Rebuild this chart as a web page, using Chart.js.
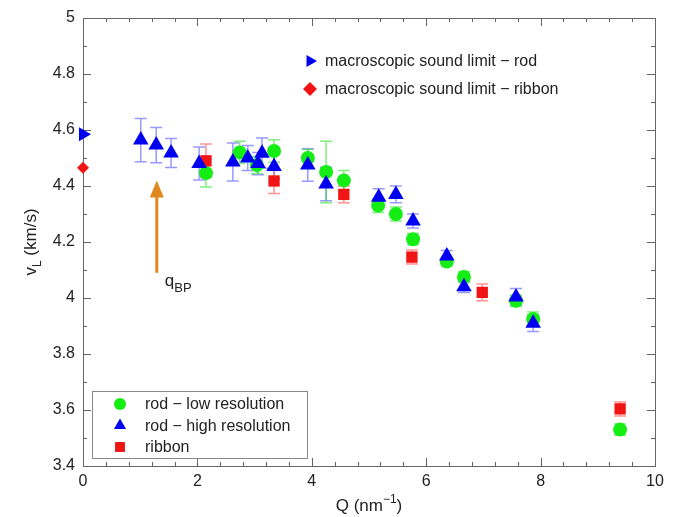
<!DOCTYPE html>
<html>
<head>
<meta charset="utf-8">
<script src="https://cdn.jsdelivr.net/npm/chart.js@4.4.1/dist/chart.umd.min.js"></script>
<style>
  html, body { margin: 0; padding: 0; background: #fff; }
  #wrap { width: 681px; height: 517px; }
</style>
</head>
<body>
<div id="wrap"><canvas id="vl_chart"></canvas></div>
<script>
// rod - low resolution
const lowQ   = [2.15, 2.74, 3.04, 3.34, 3.93, 4.25, 4.56, 5.16, 5.47, 5.77, 6.36, 6.66, 7.57, 7.87, 9.39]
const lowV   = [4.446, 4.52, 4.475, 4.525, 4.50, 4.45, 4.42, 4.33, 4.30, 4.21, 4.13, 4.075, 3.99, 3.925, 3.53]
const lowErr = [0.05, 0.04, 0.03, 0.04, 0.03, 0.11, 0.035, 0.025, 0.025, 0.02, 0.015, 0.02, 0.02, 0.025, 0.02]

// rod - high resolution
const hiQ   = [1.01, 1.28, 1.54, 2.03, 2.62, 2.88, 3.06, 3.13, 3.34, 3.93, 4.25, 5.17, 5.47, 5.77, 6.36, 6.66, 7.57, 7.87]
const hiV   = [4.564, 4.546, 4.518, 4.48, 4.486, 4.50, 4.48, 4.517, 4.47, 4.475, 4.407, 4.36, 4.37, 4.275, 4.15, 4.04, 4.004, 3.91]
const hiErr = [0.077, 0.063, 0.052, 0.059, 0.068, 0.045, 0.04, 0.054, 0.045, 0.058, 0.06, 0.03, 0.03, 0.025, 0.02, 0.02, 0.03, 0.03]

// ribbon
const ribQ   = [2.15, 3.34, 4.56, 5.75, 6.98, 9.39]
const ribV   = [4.49, 4.418, 4.37, 4.146, 4.02, 3.604]
const ribErr = [0.06, 0.045, 0.03, 0.025, 0.03, 0.025]

// macroscopic sound limits (at Q = 0)
const macroRod = 4.585
const macroRibbon = 4.465

const xTicks = [0, 2, 4, 6, 8, 10]
const yTicks = [3.4, 3.6, 3.8, 4, 4.2, 4.4, 4.6, 4.8, 5]

const FONT = '"Liberation Sans", Arial, sans-serif'

function pts(xs, ys) {
  return xs.map((x, i) => ({ x: x, y: ys[i] }))
}

// error bars, drawn under the markers
const errorBars = {
  id: 'errorBars',
  beforeDatasetsDraw(chart) {
    const ctx = chart.ctx
    const xs = chart.scales.x, ys = chart.scales.y
    chart.data.datasets.forEach(ds => {
      if (!ds.errors) return
      ctx.save()
      ctx.strokeStyle = ds.errColor
      ctx.lineWidth = 1.5
      ds.data.forEach((p, i) => {
        const px = xs.getPixelForValue(p.x)
        const top = ys.getPixelForValue(p.y + ds.errors[i])
        const bot = ys.getPixelForValue(p.y - ds.errors[i])
        ctx.beginPath()
        ctx.moveTo(px, top); ctx.lineTo(px, bot)
        ctx.moveTo(px - 6, top); ctx.lineTo(px + 6, top)
        ctx.moveTo(px - 6, bot); ctx.lineTo(px + 6, bot)
        ctx.stroke()
      })
      ctx.restore()
    })
  }
}

// box with inward ticks on all four sides
const frame = {
  id: 'frame',
  beforeDatasetsDraw(chart) {
    const ctx = chart.ctx, a = chart.chartArea
    const xs = chart.scales.x, ys = chart.scales.y
    ctx.save()
    ctx.strokeStyle = '#666'
    ctx.lineWidth = 1
    ctx.strokeRect(a.left + 0.5, a.top + 0.5, a.right - a.left, a.bottom - a.top)
    ctx.beginPath()
    for (let i = 0; i <= 25; i++) {
      const px = Math.round(xs.getPixelForValue(i * 0.4)) + 0.5
      const len = i % 5 == 0 ? 8 : 4
      ctx.moveTo(px, a.bottom); ctx.lineTo(px, a.bottom - len)
      ctx.moveTo(px, a.top); ctx.lineTo(px, a.top + len)
    }
    for (let i = 0; i <= 16; i++) {
      const py = Math.round(ys.getPixelForValue(3.4 + i * 0.1)) + 0.5
      const len = i % 2 == 0 ? 8 : 4
      ctx.moveTo(a.left, py); ctx.lineTo(a.left + len, py)
      ctx.moveTo(a.right, py); ctx.lineTo(a.right - len, py)
    }
    ctx.stroke()
    ctx.restore()
  }
}

function marker(ctx, ds, x, y, r) {
  ctx.save()
  ctx.fillStyle = ds.backgroundColor
  ctx.strokeStyle = ds.backgroundColor
  Chart.helpers.drawPoint(ctx, { pointStyle: ds.pointStyle, radius: r, rotation: ds.rotation || 0, borderWidth: 0 }, x, y)
  ctx.restore()
}

// titles, arrow, and the two legends
const extras = {
  id: 'extras',
  afterDraw(chart) {
    const ctx = chart.ctx, a = chart.chartArea
    const xs = chart.scales.x, ys = chart.scales.y
    const ds = chart.data.datasets
    ctx.save()
    ctx.fillStyle = '#222'
    ctx.textBaseline = 'alphabetic'

    // x title: Q (nm^-1)
    ctx.font = '17px ' + FONT
    const t1 = 'Q (nm', sup = '\u22121', t2 = ')'
    ctx.font = '17px ' + FONT
    const w1 = ctx.measureText(t1).width, w3 = ctx.measureText(t2).width
    ctx.font = '12px ' + FONT
    const w2 = ctx.measureText(sup).width
    let x0 = (a.left + a.right) / 2 - (w1 + w2 + w3) / 2
    const yb = a.bottom + 45
    ctx.font = '17px ' + FONT
    ctx.textAlign = 'left'
    ctx.fillText(t1, x0, yb)
    ctx.font = '12px ' + FONT
    ctx.fillText(sup, x0 + w1, yb - 8)
    ctx.font = '17px ' + FONT
    ctx.fillText(t2, x0 + w1 + w2, yb)

    // y title: v_L (km/s)
    ctx.save()
    ctx.translate(36, (a.top + a.bottom) / 2)
    ctx.rotate(-Math.PI / 2)
    ctx.font = '17px ' + FONT
    const v = 'v', rest = ' (km/s)'
    const wv = ctx.measureText(v).width, wr = ctx.measureText(rest).width
    ctx.font = '12px ' + FONT
    const wl = ctx.measureText('L').width
    let s = -(wv + wl + wr) / 2
    ctx.font = '17px ' + FONT
    ctx.fillText(v, s, 0)
    ctx.font = '12px ' + FONT
    ctx.fillText('L', s + wv, 5)
    ctx.font = '17px ' + FONT
    ctx.fillText(rest, s + wv + wl, 0)
    ctx.restore()

    // arrow marking q_BP
    const ax = xs.getPixelForValue(1.29)
    const aTop = ys.getPixelForValue(4.42)
    const aBot = ys.getPixelForValue(4.09)
    ctx.strokeStyle = '#e0871e'
    ctx.fillStyle = '#e0871e'
    ctx.lineWidth = 3
    ctx.beginPath()
    ctx.moveTo(ax, aBot); ctx.lineTo(ax, aTop + 14)
    ctx.stroke()
    ctx.beginPath()
    ctx.moveTo(ax, aTop); ctx.lineTo(ax - 7, aTop + 17); ctx.lineTo(ax + 7, aTop + 17)
    ctx.closePath(); ctx.fill()

    ctx.fillStyle = '#222'
    ctx.font = '17px ' + FONT
    const qx = ax + 8, qy = aBot + 13
    ctx.fillText('q', qx, qy)
    const wq = ctx.measureText('q').width
    ctx.font = '13px ' + FONT
    ctx.fillText('BP', qx + wq, qy + 6)

    // legend for the macroscopic limits (no box)
    ctx.font = '16px ' + FONT
    ctx.textBaseline = 'middle'
    const topItems = [ds[3], ds[4]]
    topItems.forEach((d, i) => {
      const y = 61 + i * 28
      marker(ctx, d, 310, y, 7)
      ctx.fillStyle = '#222'
      ctx.fillText(d.label, 325, y + 1)
    })

    // boxed legend, lower left
    ctx.strokeStyle = '#888'
    ctx.lineWidth = 1
    ctx.fillStyle = '#fff'
    ctx.fillRect(92.5, 391.5, 215, 67)
    ctx.strokeRect(92.5, 391.5, 215, 67)
    const boxItems = [[ds[2], 6], [ds[0], 7], [ds[1], 7]]
    boxItems.forEach((it, i) => {
      const y = 404 + i * 21.5
      marker(ctx, it[0], 120, y, it[1])
      ctx.fillStyle = '#222'
      ctx.fillText(it[0].label, 145, y + 1)
    })
    ctx.restore()
  }
}

const data = {
  datasets: [
    {
      label: 'rod \u2212 high resolution',
      data: pts(hiQ, hiV), errors: hiErr, errColor: 'rgba(70,70,255,0.55)',
      backgroundColor: '#0000f0', borderWidth: 0, pointStyle: 'triangle', pointRadius: 9, order: 0
    },
    {
      label: 'ribbon',
      data: pts(ribQ, ribV), errors: ribErr, errColor: 'rgba(255,60,60,0.55)',
      backgroundColor: '#f01414', borderWidth: 0, pointStyle: 'rect', pointRadius: 8, order: 1
    },
    {
      label: 'rod \u2212 low resolution',
      data: pts(lowQ, lowV), errors: lowErr, errColor: 'rgba(40,230,40,0.6)',
      backgroundColor: '#14ee14', borderWidth: 0, pointStyle: 'circle', pointRadius: 7, order: 2
    },
    {
      label: 'macroscopic sound limit \u2212 rod',
      data: [{ x: 0, y: macroRod }],
      backgroundColor: '#0000f0', borderWidth: 0, pointStyle: 'triangle', rotation: 90, pointRotation: 90, pointRadius: 8, clip: false
    },
    {
      label: 'macroscopic sound limit \u2212 ribbon',
      data: [{ x: 0, y: macroRibbon }],
      backgroundColor: '#f01414', borderWidth: 0, pointStyle: 'rectRot', pointRadius: 6, clip: false
    }
  ]
}

const config = {
  type: 'scatter',
  data: data,
  options: {
    responsive: true,
    maintainAspectRatio: false,
    animation: false,
    layout: { padding: { top: 18, right: 26, left: 0, bottom: 0 } },
    plugins: { legend: { display: false }, tooltip: { enabled: false } },
    scales: {
      x: {
        type: 'linear', min: 0, max: 10,
        afterFit: s => { s.height = 51 },
        afterBuildTicks: s => { s.ticks = xTicks.map(v => ({ value: v })) },
        grid: { display: false, drawTicks: false },
        border: { display: false },
        ticks: { padding: 6, color: '#222', font: { family: FONT, size: 16 }, maxRotation: 0 }
      },
      y: {
        type: 'linear', min: 3.4, max: 5,
        afterFit: s => { s.width = 83 },
        afterBuildTicks: s => { s.ticks = yTicks.map(v => ({ value: v })) },
        grid: { display: false, drawTicks: false },
        border: { display: false },
        ticks: {
          padding: 8, color: '#222', font: { family: FONT, size: 16 },
          callback: v => String(Math.round(v * 10) / 10)
        }
      }
    }
  },
  plugins: [frame, errorBars, extras]
}

const vlChart = new Chart(document.getElementById('vl_chart'), config)
</script>
</body>
</html>
